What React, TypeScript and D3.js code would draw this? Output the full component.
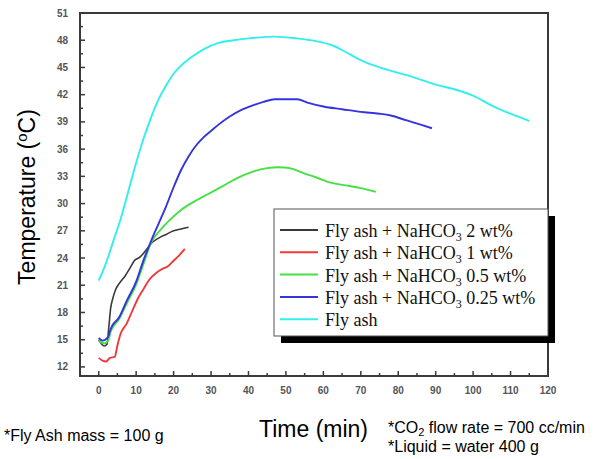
import React from 'react';
import * as d3 from 'd3';

// time (min) / temperature (°C)
const flyAshTime = [0, 2, 4, 6, 8, 10, 12, 14, 16, 18, 20, 22, 25, 28, 32, 36, 40, 47, 53, 58, 62, 66, 70, 75, 80, 85, 90, 95, 100, 105, 110, 115];
const flyAshTemp = [21.5, 23.5, 26, 28.5, 31.5, 34.5, 37.2, 39.5, 41.5, 43, 44.3, 45.2, 46.2, 47, 47.7, 48, 48.2, 48.4, 48.2, 47.9, 47.5, 46.7, 45.8, 45, 44.4, 43.8, 43.1, 42.6, 41.9, 40.8, 39.9, 39.1];

const na025Time = [0, 1, 2.5, 3.2, 5.5, 7.5, 10, 12, 14, 16, 18, 20, 22, 24, 26, 28, 30, 32, 35, 38, 41, 44, 47, 53, 56, 60, 65, 70, 75, 78, 82, 86, 89];
const na025Temp = [15.2, 14.9, 15.3, 16.2, 17.5, 19.3, 21.4, 23.8, 25.9, 27.8, 29.7, 31.8, 33.7, 35.2, 36.4, 37.3, 38, 38.7, 39.6, 40.3, 40.8, 41.2, 41.5, 41.5, 41.1, 40.7, 40.4, 40.1, 39.9, 39.7, 39.2, 38.7, 38.3];

const na05Time = [0, 1.5, 2.5, 3.2, 5.5, 7.5, 10, 12, 14, 16.5, 19, 22, 25, 29, 33, 37, 41, 45, 48, 51, 55, 58, 62, 66, 70, 74];
const na05Temp = [14.9, 14.6, 14.9, 15.9, 17.3, 19, 21.1, 23.4, 25.7, 27.1, 28.2, 29.3, 30.1, 31, 31.9, 32.8, 33.5, 33.9, 34, 33.9, 33.3, 32.9, 32.3, 32, 31.7, 31.3];

const na1Time = [0, 1, 2, 3, 4.3, 4.9, 5.8, 7.5, 9, 10.3, 12, 13.5, 15.5, 17, 18.5, 20, 21.5, 23];
const na1Temp = [13, 12.7, 12.6, 13, 13.1, 14.2, 15.6, 16.8, 18.2, 19.4, 20.6, 21.6, 22.4, 22.8, 23.1, 23.7, 24.3, 25];

const na2Time = [0, 0.8, 1.5, 2.2, 2.7, 3.2, 3.8, 4.5, 5.5, 7, 8.5, 9.5, 11, 12.5, 14, 16, 18, 20, 22, 24];
const na2Temp = [15, 14.5, 14.3, 14.5, 16.4, 18.5, 19.6, 20.5, 21.2, 22, 23, 23.7, 24.1, 24.8, 25.6, 26.2, 26.6, 27, 27.2, 27.4];

const seriesNames = ['2 wt%', '1 wt%', '0.5 wt%', '0.25 wt%', ''];
const seriesColors = ['#3a3a3a', '#ee3a3a', '#44e044', '#3434dc', '#33eeee'];

const xTicks = d3.range(0, 121, 10);
const yTicks = d3.range(12, 52, 3);

export default function App() {
  const x = d3.scaleLinear().domain([-5, 120]).range([80, 548]);
  const y = d3.scaleLinear().domain([11, 51]).range([376, 13]);

  const line = d3.line<[number, number]>()
    .x(d => x(d[0]))
    .y(d => y(d[1]))
    .curve(d3.curveMonotoneX);

  const series = [
    { t: na2Time, v: na2Temp },
    { t: na1Time, v: na1Temp },
    { t: na05Time, v: na05Temp },
    { t: na025Time, v: na025Temp },
    { t: flyAshTime, v: flyAshTemp },
  ];

  const xMinor = d3.range(5, 120, 10);
  const yMinor = d3.range(13.5, 51, 3);
  const tickFont = { fontFamily: 'Arial, "Liberation Sans", sans-serif', fontSize: 10, fontWeight: 700, fill: '#555' };

  return (
    <svg width={605} height={459} style={{ position: 'absolute', left: 0, top: 0, background: '#fff' }}>
      {/* curves */}
      {series.map((s, i) => (
        <path key={i}
          d={line(s.t.map((t, j) => [t, s.v[j]] as [number, number])) || ''}
          fill="none" stroke={seriesColors[i]} strokeWidth={i === 0 ? 1.6 : 1.9} strokeLinejoin="round" />
      ))}

      {/* frame */}
      <rect x={x(-5)} y={y(51)} width={x(120) - x(-5)} height={y(11) - y(51)} fill="none" stroke="#3a3a3a" strokeWidth={2} />

      {/* x ticks */}
      {xTicks.map(t => (
        <g key={'x' + t}>
          <line x1={x(t)} x2={x(t)} y1={y(11)} y2={y(11) - 5} stroke="#3a3a3a" strokeWidth={1.5} />
          <text x={x(t)} y={394} textAnchor="middle" {...tickFont}>{t}</text>
        </g>
      ))}
      {xMinor.map(t => (
        <line key={'xm' + t} x1={x(t)} x2={x(t)} y1={y(11)} y2={y(11) - 3} stroke="#3a3a3a" strokeWidth={1.5} />
      ))}

      {/* y ticks */}
      {yTicks.map(v => (
        <g key={'y' + v}>
          <line x1={x(-5)} x2={x(-5) + 5} y1={y(v)} y2={y(v)} stroke="#3a3a3a" strokeWidth={1.5} />
          <text x={68} y={y(v) + 3.5} textAnchor="end" {...tickFont}>{v}</text>
        </g>
      ))}
      {yMinor.map(v => (
        <line key={'ym' + v} x1={x(-5)} x2={x(-5) + 3} y1={y(v)} y2={y(v)} stroke="#3a3a3a" strokeWidth={1.5} />
      ))}

      {/* legend */}
      <rect x={281} y={216} width={274} height={127} fill="#000" />
      <rect x={274} y={209} width={274} height={127} fill="#fff" stroke="#555" strokeWidth={1} />
      {seriesNames.map((n, i) => {
        const by = 237 + i * 22.3;
        return (
          <g key={'lg' + i}>
            <line x1={280} x2={318} y1={by - 7} y2={by - 7} stroke={seriesColors[i]} strokeWidth={2} />
            <text x={325} y={by} fontFamily='"Times New Roman", "Liberation Serif", serif' fontSize={18} fill="#111">
              {i < 4 ? (
                <>
                  Fly ash + NaHCO<tspan fontSize={12} dy={4}>3</tspan><tspan dy={-4}> {n}</tspan>
                </>
              ) : 'Fly ash'}
            </text>
          </g>
        );
      })}

      {/* axis titles */}
      <text transform="translate(35,197) rotate(-90)" textAnchor="middle"
        fontFamily='Arial, "Liberation Sans", sans-serif' fontSize={23} fill="#000">
        Temperature (<tspan fontSize={15} dy={-8}>o</tspan><tspan dy={8}>C)</tspan>
      </text>
      <text x={259} y={437} fontFamily='Arial, "Liberation Sans", sans-serif' fontSize={23} fill="#000">Time (min)</text>

      {/* notes */}
      <g fontFamily='Arial, "Liberation Sans", sans-serif' fontSize={16} fill="#000">
        <text x={4} y={441}>*Fly Ash mass = 100 g</text>
        <text x={388} y={433}>*CO<tspan fontSize={11} dy={3}>2</tspan><tspan dy={-3}> flow rate = 700 cc/min</tspan></text>
        <text x={388} y={452}>*Liquid = water 400 g</text>
      </g>
    </svg>
  );
}
